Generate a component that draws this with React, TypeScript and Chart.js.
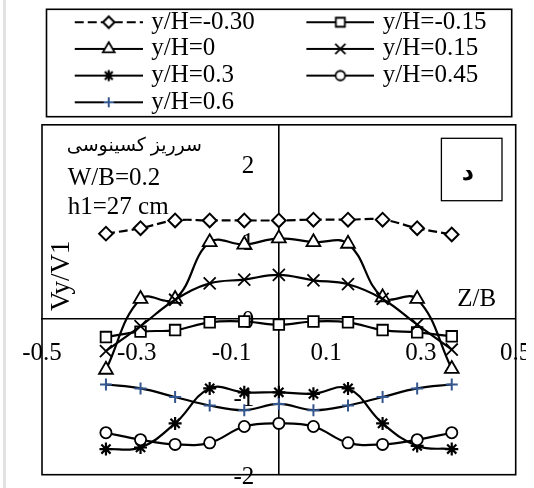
import React, { useEffect, useRef } from 'react';
import { Chart, registerables } from 'chart.js';
import { drawPoint } from 'chart.js/helpers';

Chart.register(...registerables);

const SERIF = '"Liberation Serif", "Times New Roman", "DejaVu Serif", serif';
const ARABIC = '"Liberation Serif", "DejaVu Sans", serif';

// Z/B stations across the channel
const Z_B = [-0.365, -0.292, -0.219, -0.146, -0.073, 0, 0.073, 0.146, 0.219, 0.292, 0.365];

// Vy/V1 profiles, one per depth ratio y/H
const SERIES_LABELS = ['y/H=-0.30', 'y/H=-0.15', 'y/H=0', 'y/H=0.15', 'y/H=0.3', 'y/H=0.45', 'y/H=0.6'];
const V_M030 = [1.10, 1.17, 1.27, 1.27, 1.27, 1.27, 1.28, 1.28, 1.28, 1.17, 1.09];
const V_M015 = [-0.23, -0.16, -0.14, -0.04, -0.03, -0.07, -0.03, -0.04, -0.14, -0.17, -0.22];
const V_000 = [-0.65, 0.26, 0.26, 0.99, 0.96, 1.04, 0.99, 0.97, 0.28, 0.26, -0.64];
const V_015 = [-0.41, -0.09, 0.25, 0.46, 0.51, 0.57, 0.50, 0.45, 0.26, -0.07, -0.39];
const V_030 = [-1.67, -1.65, -1.34, -0.89, -0.94, -0.94, -0.96, -0.89, -1.34, -1.63, -1.67];
const V_045 = [-1.46, -1.55, -1.61, -1.59, -1.38, -1.34, -1.38, -1.59, -1.61, -1.55, -1.46];
const V_060 = [-0.84, -0.89, -1.00, -1.11, -1.17, -1.09, -1.17, -1.11, -1.00, -0.89, -0.84];
const SERIES_VALUES = [V_M030, V_M015, V_000, V_015, V_030, V_045, V_060];

// axis ticks
const X_TICKS = [-0.5, -0.3, -0.1, 0.1, 0.3, 0.5];
const X_TICK_LABELS = ['-0.5', '-0.3', '-0.1', '0.1', '0.3', '0.5'];
const Y_TICKS = [-2, -1, 0, 1, 2];
const Y_TICK_LABELS = ['-2', '-1', '0', '1', '2'];
const Y_MIN = -2;
const Y_MAX = 2.5;

// marker / line look of each series
const STYLES = [
  { pointStyle: 'rectRot', radius: 6.8, dash: [9, 4], pointColor: '#000', fill: '#fff', bw: 2 },
  { pointStyle: 'rect', radius: 7.5, dash: [], pointColor: '#000', fill: '#fff', bw: 1.8 },
  { pointStyle: 'triangle', radius: 8, dash: [], pointColor: '#000', fill: '#fff', bw: 1.8 },
  { pointStyle: 'crossRot', radius: 8.5, dash: [], pointColor: '#000', fill: '#fff', bw: 1.8 },
  { pointStyle: 'star', radius: 6.5, dash: [], pointColor: '#000', fill: '#fff', bw: 2.2 },
  { pointStyle: 'circle', radius: 5.6, dash: [], pointColor: '#000', fill: '#fff', bw: 1.8 },
  { pointStyle: 'cross', radius: 6, dash: [], pointColor: '#34578f', fill: '#fff', bw: 2 },
];

const FONT_SIZE = 25;
const LEG_PAD = 1.7;
const LEG_BOX_W = 95;
const LEG_LINE_START = 31;
const LEG_LINE_LEN = 68;
const LEG_COL1_TEXT_W = 124;

function legendSample(style: any): HTMLCanvasElement {
  const half = LEG_LINE_START + LEG_LINE_LEN - LEG_BOX_W / 2;
  const w = Math.round(half * 2);
  const h = 22;
  const c = document.createElement('canvas');
  c.width = w;
  c.height = h;
  const ctx = c.getContext('2d') as CanvasRenderingContext2D;
  const x0 = w / 2 - LEG_BOX_W / 2 + LEG_LINE_START;
  const cy = h / 2;
  ctx.strokeStyle = '#000';
  ctx.lineWidth = 2;
  ctx.setLineDash(style.dash);
  ctx.beginPath();
  ctx.moveTo(x0, cy);
  ctx.lineTo(x0 + LEG_LINE_LEN, cy);
  ctx.stroke();
  ctx.setLineDash([]);
  ctx.fillStyle = style.fill;
  ctx.strokeStyle = style.pointColor;
  ctx.lineWidth = style.bw;
  drawPoint(ctx, { pointStyle: style.pointStyle, radius: style.radius * 0.85, rotation: 0, borderWidth: style.bw } as any, x0 + LEG_LINE_LEN / 2, cy);
  return c;
}

function padText(text: string, target: number): string {
  const ctx = document.createElement('canvas').getContext('2d') as CanvasRenderingContext2D;
  ctx.font = `${FONT_SIZE}px ${SERIF}`;
  let t = text;
  while (ctx.measureText(t + ' ').width <= target) t += ' ';
  while (ctx.measureText(t + '\u200A').width <= target + 0.5) t += '\u200A';
  return t;
}

const decorPlugin = {
  id: 'decor',
  afterDraw(chart: any) {
    const { ctx, chartArea: ca } = chart;
    const y0 = chart.scales.y.getPixelForValue(0);
    ctx.save();
    // plot frame
    ctx.strokeStyle = '#000';
    ctx.lineWidth = 1.6;
    ctx.strokeRect(ca.left, ca.top, ca.right - ca.left, ca.bottom - ca.top);
    // legend frame
    const lg = chart.legend;
    ctx.strokeRect(lg.left + 4.5, lg.top + 1.3, lg.right - lg.left - 8.5, 107.4);

    ctx.fillStyle = '#000';
    ctx.textBaseline = 'middle';
    // notes
    ctx.font = `19px ${ARABIC}`;
    ctx.textAlign = 'right';
    ctx.fillText('سرریز کسینوسی', ca.left + 160, ca.top + 21);
    ctx.font = `${FONT_SIZE}px ${SERIF}`;
    ctx.textAlign = 'left';
    ctx.fillText('W/B=0.2', ca.left + 25.7, ca.top + 54);
    ctx.fillText('h1=27 cm', ca.left + 25.7, ca.top + 83);
    // axis titles
    ctx.textAlign = 'center';
    ctx.fillText('Z/B', ca.left + 434.7, y0 - 20);
    ctx.save();
    ctx.translate(ca.left + 19.7, ca.top + 151);
    ctx.rotate(-Math.PI / 2);
    ctx.font = `27px ${SERIF}`;
    ctx.fillText('Vy/V1', 0, 0);
    ctx.restore();
    // panel tag
    ctx.lineWidth = 1.3;
    ctx.strokeRect(ca.left + 399.4, ca.top + 13.5, 60.6, 62.4);
    ctx.font = `bold 24px ${ARABIC}`;
    ctx.fillText('د', ca.left + 426, ca.top + 49);
    ctx.restore();
  },
};

const noPadding = (s: any) => {
  s.paddingLeft = 0;
  s.paddingRight = 0;
  s.paddingTop = 0;
  s.paddingBottom = 0;
};

export default function App() {
  const ref = useRef<HTMLCanvasElement | null>(null);

  useEffect(() => {
    if (!ref.current) return;
    const datasets = SERIES_VALUES.map((vals, i) => {
      const s = STYLES[i];
      return {
        label: SERIES_LABELS[i],
        data: vals.map((v, k) => ({ x: Z_B[k], y: v })),
        borderColor: '#000',
        borderWidth: 2.2,
        borderDash: s.dash,
        tension: 0.4,
        pointStyle: s.pointStyle,
        pointRadius: s.radius,
        pointBackgroundColor: s.fill,
        pointBorderColor: s.pointColor,
        pointBorderWidth: s.bw,
        order: SERIES_VALUES.length - i,
      };
    });

    const tickFont = { family: SERIF, size: FONT_SIZE };

    const chart = new Chart(ref.current, {
      type: 'line',
      data: { datasets },
      plugins: [decorPlugin],
      options: {
        animation: false,
        responsive: true,
        maintainAspectRatio: false,
        layout: { padding: { left: 34, right: 9.5, top: 0, bottom: 2 } },
        plugins: {
          tooltip: { enabled: false },
          legend: {
            position: 'top',
            align: 'start',
            fullSize: false,
            labels: {
              usePointStyle: true,
              pointStyleWidth: LEG_BOX_W,
              padding: LEG_PAD,
              color: '#000',
              font: { family: SERIF, size: FONT_SIZE },
              generateLabels: (ch: any) =>
                ch.data.datasets.map((ds: any, i: number) => ({
                  text: i % 2 === 0 && i < 6 ? padText(ds.label, LEG_COL1_TEXT_W) : ds.label,
                  pointStyle: legendSample(STYLES[i]),
                  fillStyle: '#fff',
                  strokeStyle: '#000',
                  lineWidth: 0,
                  hidden: false,
                  datasetIndex: i,
                })),
            },
          },
        },
        scales: {
          x: {
            type: 'linear',
            position: { y: 0 } as any,
            min: -0.5,
            max: 0.5,
            grid: { display: false, drawTicks: false },
            border: { display: true, color: '#000', width: 1.6 },
            afterBuildTicks: (s: any) => {
              s.ticks = X_TICKS.map((value) => ({ value }));
            },
            afterFit: noPadding,
            ticks: {
              autoSkip: false,
              maxRotation: 0,
              padding: 19,
              color: '#000',
              font: tickFont,
              callback: (_v: any, i: number) => X_TICK_LABELS[i],
            },
          },
          // value axis: dashed line through Z/B = 0
          y: {
            type: 'linear',
            position: { x: 0 } as any,
            min: Y_MIN,
            max: Y_MAX,
            grid: { display: false, drawTicks: false },
            border: { display: true, color: '#000', width: 1.6, dash: [5, 3] },
            afterBuildTicks: (s: any) => {
              s.ticks = Y_TICKS.map((value) => ({ value }));
            },
            afterFit: noPadding,
            ticks: { display: false },
          },
          // companion axis carrying the value labels just left of the dashed line
          yLabels: {
            type: 'linear',
            position: { x: -0.0517 } as any,
            min: Y_MIN,
            max: Y_MAX,
            grid: { display: false, drawTicks: false },
            border: { display: false },
            afterBuildTicks: (s: any) => {
              s.ticks = Y_TICKS.map((value) => ({ value }));
            },
            afterFit: noPadding,
            ticks: {
              padding: 0,
              labelOffset: 2.5,
              color: '#000',
              font: tickFont,
              callback: (_v: any, i: number) => Y_TICK_LABELS[i],
            },
          },
        },
      } as any,
    });
    return () => chart.destroy();
  }, []);

  return (
    <>
      <div style={{ position: 'fixed', left: 3, top: 0, width: 3, height: '100%', background: '#e2e2e2' }} />
      <div style={{ position: 'fixed', left: 8, top: 8, width: 518, height: 477 }}>
        <canvas ref={ref} />
      </div>
    </>
  );
}
